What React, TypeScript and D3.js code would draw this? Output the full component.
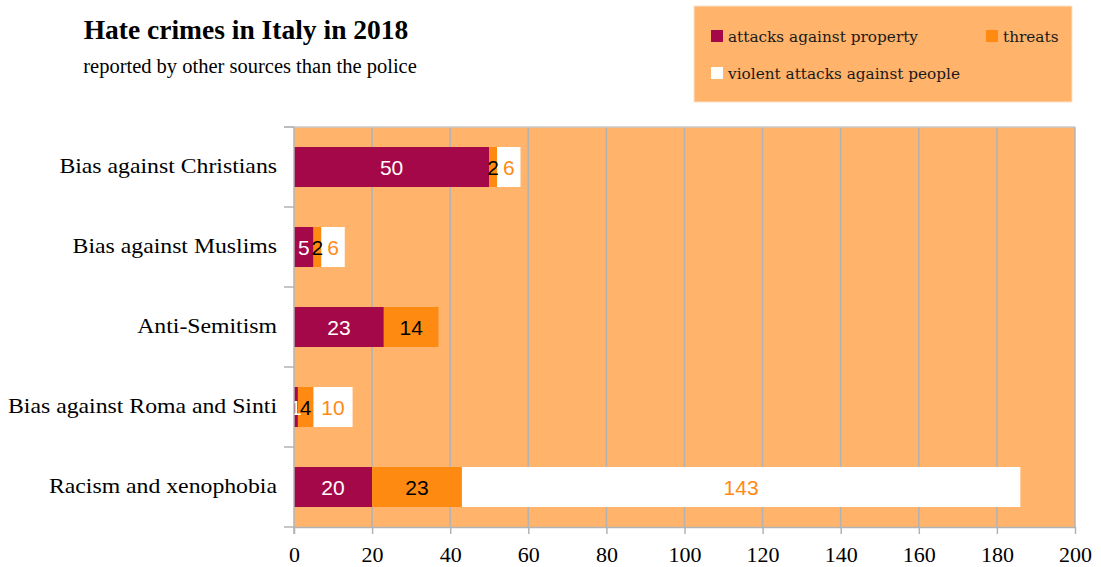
import React, { useRef, useEffect } from 'react';
import * as d3 from 'd3';

const categories = [
  'Bias against Christians',
  'Bias against Muslims',
  'Anti-Semitism',
  'Bias against Roma and Sinti',
  'Racism and xenophobia',
];
const property = [50, 5, 23, 1, 20];
const threats = [2, 2, 14, 4, 23];
const violent = [6, 6, 0, 10, 143];
const seriesNames = ['attacks against property', 'threats', 'violent attacks against people'];
const xTicks = [0, 20, 40, 60, 80, 100, 120, 140, 160, 180, 200];

const colors = ['#A50848', '#FF8A12', '#FFFFFF'];
const labelColors = ['#FFFFFF', '#000000', '#FF8A12'];

const App = () => {
  const ref = useRef(null);

  useEffect(() => {
    const svg = d3.select(ref.current);
    svg.selectAll('*').remove();
    const left = 294, right = 1075, top = 127, bottom = 527;

    const x = d3.scaleLinear().domain([0, 200]).range([left, right]);
    const y = d3.scaleBand().domain(categories).range([top, bottom])
      .paddingInner(0.5).paddingOuter(0.25);

    // title
    svg.append('text').attr('x', 246).attr('y', 39).attr('text-anchor', 'middle')
      .attr('font-family', '"Liberation Serif", serif').attr('font-weight', 'bold')
      .attr('font-size', 27.5).text('Hate crimes in Italy in 2018');
    svg.append('text').attr('x', 250).attr('y', 73).attr('text-anchor', 'middle')
      .attr('font-family', '"Liberation Serif", serif').attr('font-size', 20.5)
      .text('reported by other sources than the police');

    // legend
    const lg = svg.append('g');
    lg.append('rect').attr('x', 694).attr('y', 6).attr('width', 378).attr('height', 96)
      .attr('fill', '#FFB36B').attr('stroke', '#FBE3CC');
    const legendPos = [[711, 42], [986, 42], [711, 79]];
    seriesNames.forEach((n, i) => {
      const [lx, ly] = legendPos[i];
      lg.append('rect').attr('x', lx).attr('y', ly - 12).attr('width', 12).attr('height', 12)
        .attr('fill', colors[i]);
      lg.append('text').attr('x', lx + 17).attr('y', ly)
        .attr('font-family', '"DejaVu Serif", serif').attr('font-size', 15.3)
        .attr('fill', '#1a1a1a').text(n);
    });

    // plot background
    svg.append('rect').attr('x', left).attr('y', top).attr('width', right - left)
      .attr('height', bottom - top).attr('fill', '#FFB36B');

    // grid
    svg.append('g').selectAll('line').data(xTicks.slice(1)).enter().append('line')
      .attr('x1', d => x(d)).attr('x2', d => x(d)).attr('y1', top).attr('y2', bottom)
      .attr('stroke', '#B3B3B3').attr('stroke-width', 1.5);
    svg.append('line').attr('x1', left - 10).attr('x2', right).attr('y1', top).attr('y2', top)
      .attr('stroke', '#C8C8C8').attr('stroke-width', 1.5);

    // bars
    const series = [property, threats, violent];
    categories.forEach((c, ci) => {
      let acc = 0;
      series.forEach((s, si) => {
        const v = s[ci];
        if (v > 0) {
          svg.append('rect').attr('x', x(acc)).attr('y', y(c))
            .attr('width', x(acc + v) - x(acc)).attr('height', y.bandwidth())
            .attr('fill', colors[si]);
        }
        acc += v;
      });
    });
    categories.forEach((c, ci) => {
      let acc = 0;
      series.forEach((s, si) => {
        const v = s[ci];
        if (v > 0) {
          svg.append('text').attr('x', x(acc + v / 2)).attr('y', y(c) + y.bandwidth() / 2 + 7.5)
            .attr('text-anchor', 'middle').attr('font-family', '"Liberation Sans", Arial, sans-serif')
            .attr('font-size', 21).attr('fill', labelColors[si]).text(v);
        }
        acc += v;
      });
    });

    // axes
    const xAxis = svg.append('g').attr('transform', `translate(0,${bottom})`)
      .call(d3.axisBottom(x).tickValues(xTicks).tickSize(7).tickSizeOuter(0));
    xAxis.select('.domain').attr('stroke', '#B3B3B3').attr('stroke-width', 1.5);
    xAxis.selectAll('line').attr('stroke', '#B3B3B3').attr('stroke-width', 1.5);
    xAxis.selectAll('text').attr('font-family', '"Liberation Serif", serif')
      .attr('font-size', 22).attr('fill', '#000').attr('y', 35).attr('dy', 0);

    const ya = svg.append('g');
    ya.append('line').attr('x1', left).attr('x2', left).attr('y1', top).attr('y2', bottom + 7)
      .attr('stroke', '#B3B3B3').attr('stroke-width', 1.5);
    const bounds = d3.range(categories.length + 1).map(i => top + i * y.step());
    ya.selectAll('.tk').data(bounds).enter().append('line')
      .attr('x1', left - 10).attr('x2', left).attr('y1', d => d).attr('y2', d => d)
      .attr('stroke', '#B3B3B3').attr('stroke-width', 1.5);
    ya.selectAll('.lb').data(categories).enter().append('text')
      .attr('transform', d => `translate(277,${y(d) + y.bandwidth() / 2 + 6}) scale(1.08,1)`)
      .attr('text-anchor', 'end').attr('font-family', '"Liberation Serif", serif')
      .attr('font-size', 22).text(d => d);
  }, []);

  return (
    <svg ref={ref} width={1101} height={567} style={{ position: 'absolute', left: 0, top: 0 }}></svg>
  );
};

export default App;
